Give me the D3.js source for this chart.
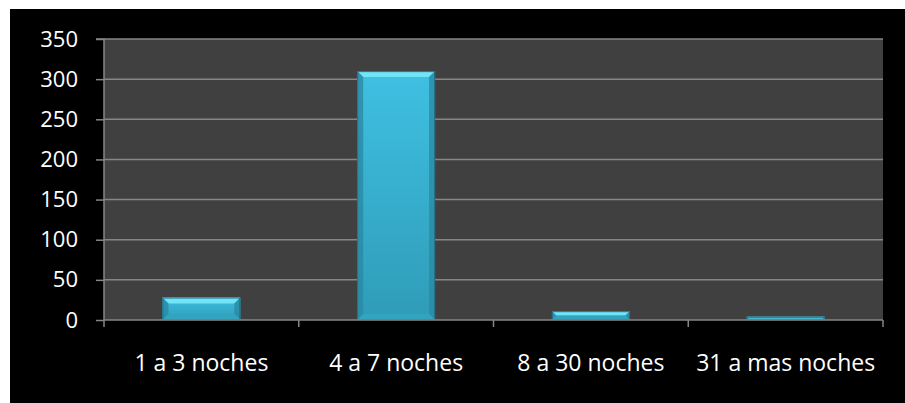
<!DOCTYPE html>
<html>
<head>
<meta charset="utf-8">
<script src="https://cdn.jsdelivr.net/npm/d3@7"></script>
<style>
html,body{margin:0;padding:0;background:#fff;}
svg{display:block;}
text{font-family:"Open Sans", sans-serif;fill:#fff;}
</style>
</head>
<body>
<svg id="chart" width="905" height="403"></svg>
<script>
const categories = ["1 a 3 noches", "4 a 7 noches", "8 a 30 noches", "31 a mas noches"];
const values = [28, 310, 11, 4];
const yTicks = [0, 50, 100, 150, 200, 250, 300, 350];

const svg = d3.select("#chart");
const W = 905, H = 403;
const plot = {left: 104, right: 883, top: 39, bottom: 320};
const FONT = "'Open Sans', sans-serif";

svg.append("rect").attr("x", 10).attr("y", 9).attr("width", W - 10).attr("height", H - 9).attr("fill", "#000");

const x = d3.scaleBand().domain(categories).range([plot.left, plot.right]).paddingInner(0.6).paddingOuter(0.3);
const xb = d3.scaleBand().domain(categories).range([plot.left, plot.right]);
const y = d3.scaleLinear().domain([0, 350]).range([plot.bottom, plot.top]);

svg.append("rect").attr("x", plot.left).attr("y", plot.top)
  .attr("width", plot.right - plot.left).attr("height", plot.bottom - plot.top).attr("fill", "#404040");

// gridlines
svg.append("g").selectAll("line").data(yTicks.filter(d => d > 0)).join("line")
  .attr("x1", plot.left).attr("x2", plot.right)
  .attr("y1", d => y(d)).attr("y2", d => y(d))
  .attr("stroke", "#868686").attr("stroke-width", 1.5);

// defs
const defs = svg.append("defs");
const g1 = defs.append("linearGradient").attr("id", "body").attr("x1", 0).attr("y1", 0).attr("x2", 0).attr("y2", 1);
g1.append("stop").attr("offset", 0).attr("stop-color", "#3fc0e2");
g1.append("stop").attr("offset", 1).attr("stop-color", "#2f9cb8");

const bars = svg.append("g");
categories.forEach((c, i) => {
  const v = values[i];
  const x0 = x(c), w = x.bandwidth();
  const y0 = y(v), y1 = y(0);
  const h = y1 - y0;
  const b = Math.min(6, h / 2);
  const g = bars.append("g");
  g.append("rect").attr("x", x0).attr("y", y0).attr("width", w).attr("height", h).attr("fill", "url(#body)");
  g.append("path").attr("d", `M${x0},${y0}L${x0 + w},${y0}L${x0 + w - b},${y0 + b}L${x0 + b},${y0 + b}Z`)
    .attr("fill", "#72e4f8");
  g.append("path").attr("d", `M${x0},${y0}L${x0 + b},${y0 + b}L${x0 + b},${y1 - b}L${x0},${y1}Z`)
    .attr("fill", "#2a8aa4").attr("opacity", 0.8);
  g.append("path").attr("d", `M${x0 + w},${y0}L${x0 + w - b},${y0 + b}L${x0 + w - b},${y1 - b}L${x0 + w},${y1}Z`)
    .attr("fill", "#2a8aa4").attr("opacity", 0.8);
  g.append("path").attr("d", `M${x0},${y1}L${x0 + b},${y1 - b}L${x0 + w - b},${y1 - b}L${x0 + w},${y1}Z`)
    .attr("fill", "#33a4c0");
  g.append("rect").attr("x", x0 + 0.5).attr("y", y0 + 0.5).attr("width", w - 1).attr("height", Math.max(0, h - 1))
    .attr("fill", "none").attr("stroke", "#236f85").attr("stroke-width", 1);
});

// y axis
const yAxis = d3.axisLeft(y).tickValues(yTicks).tickSize(8).tickPadding(18);
const ya = svg.append("g").attr("transform", `translate(${plot.left},0)`).call(yAxis);
ya.select(".domain").attr("stroke", "#868686").attr("stroke-width", 1.5).attr("d", `M-8,${plot.top}H0V${plot.bottom}`);
ya.selectAll(".tick line").attr("stroke", "#868686").attr("stroke-width", 1.5);
ya.selectAll(".tick text").attr("font-size", 22).attr("fill", "#fff").attr("font-family", FONT);

// x axis
const xAxis = d3.axisBottom(xb).tickSize(0).tickPadding(35);
const xa = svg.append("g").attr("transform", `translate(0,${plot.bottom})`).call(xAxis);
xa.select(".domain").remove();
xa.selectAll(".tick text").attr("font-size", 23).attr("fill", "#fff").attr("font-family", FONT);
xa.append("line").attr("x1", plot.left).attr("x2", plot.right).attr("y1", 0).attr("y2", 0)
  .attr("stroke", "#868686").attr("stroke-width", 1.5);
const bounds = [plot.left, ...categories.map(c => xb(c) + xb.bandwidth())];
xa.selectAll(".sep").data(bounds).join("line").attr("class", "sep")
  .attr("x1", d => d).attr("x2", d => d).attr("y1", 0).attr("y2", 7)
  .attr("stroke", "#868686").attr("stroke-width", 1.5);
</script>
</body>
</html>
